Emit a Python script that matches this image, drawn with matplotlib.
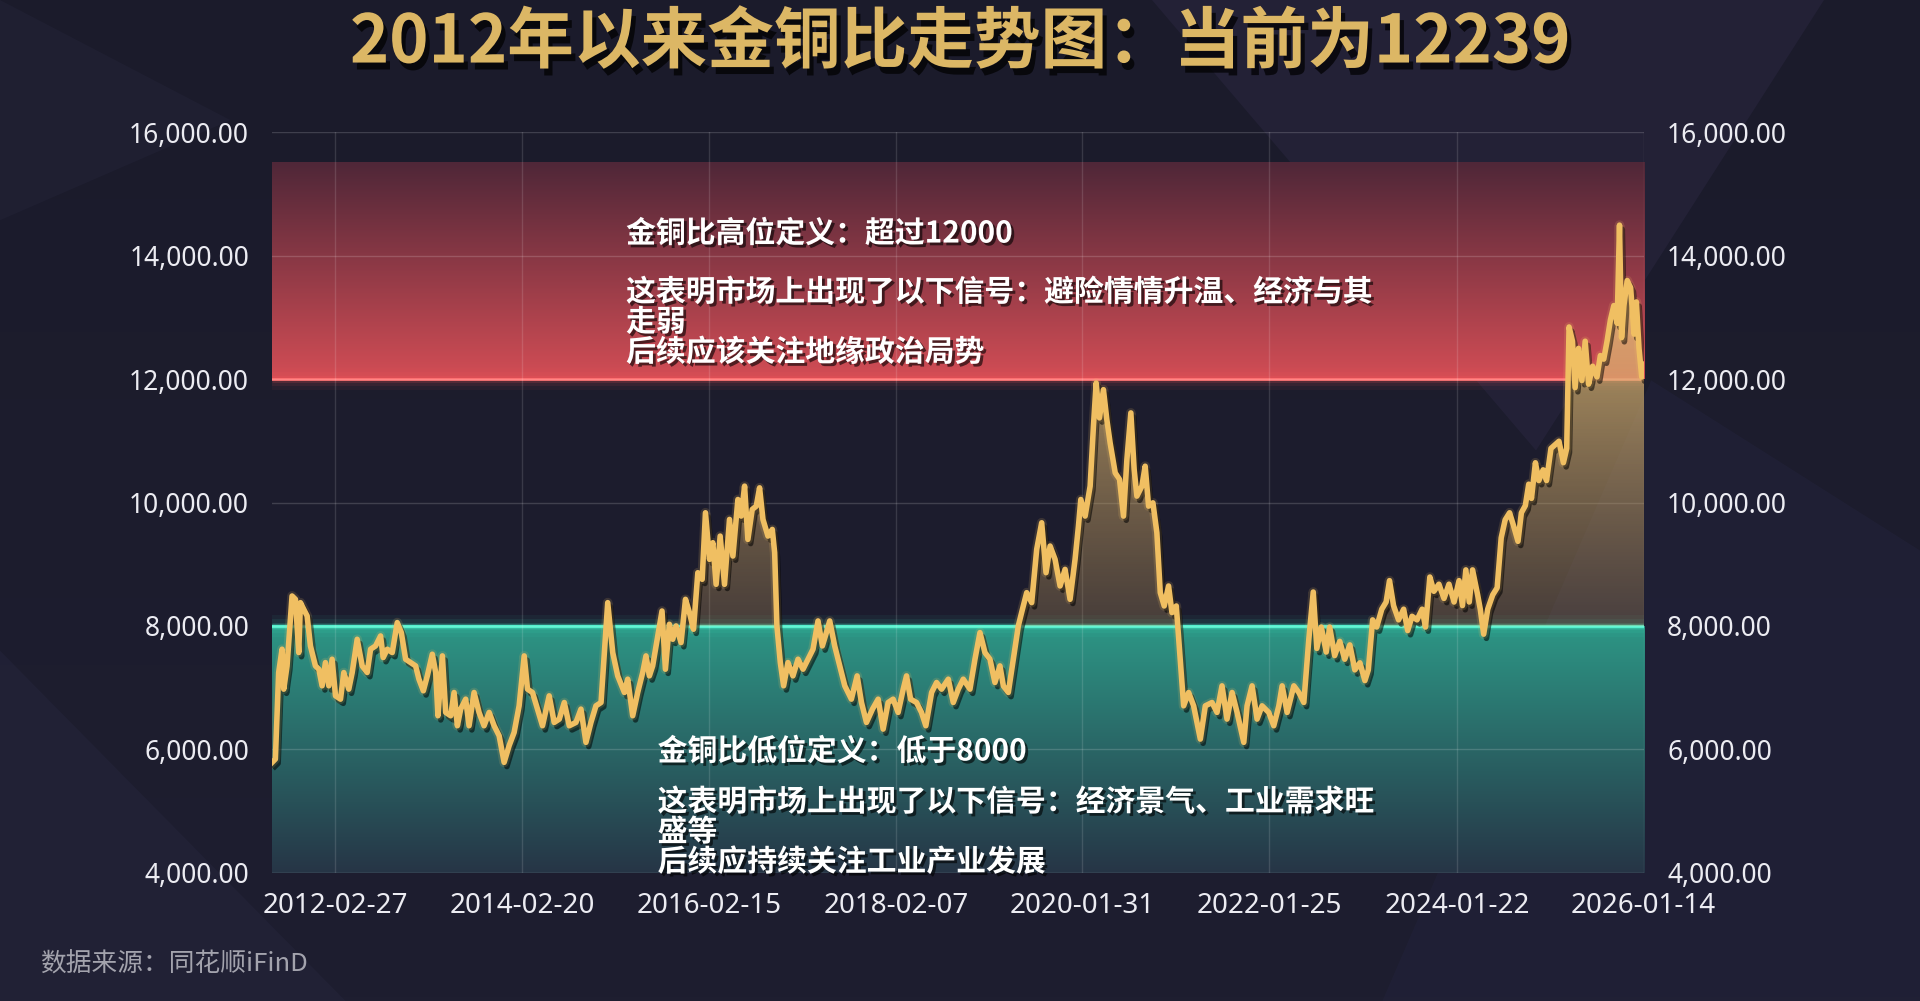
import numpy as np
import pandas as pd
import matplotlib
matplotlib.use("Agg")
import matplotlib.pyplot as plt
from matplotlib import patheffects as pe
from matplotlib.path import Path
from matplotlib.patches import Polygon
from matplotlib.colors import to_rgb

plt.rcParams['font.family'] = ['Noto Sans CJK SC', 'DejaVu Sans']

# gold / copper ratio (x = decimal year)
years = [
    2011.484, 2011.519, 2011.554, 2011.590, 2011.608, 2011.643, 2011.696, 2011.732, 2011.767, 2011.785,
    2011.820, 2011.856, 2011.891, 2011.944, 2011.980, 2012.015, 2012.050, 2012.086, 2012.121, 2012.157,
    2012.210, 2012.245, 2012.298, 2012.334, 2012.387, 2012.440, 2012.493, 2012.529, 2012.582, 2012.635,
    2012.663, 2012.706, 2012.759, 2012.812, 2012.855, 2012.901, 2012.954, 2013.007, 2013.042, 2013.089,
    2013.131, 2013.184, 2013.220, 2013.244, 2013.291, 2013.326, 2013.379, 2013.415, 2013.450, 2013.485,
    2013.538, 2013.574, 2013.627, 2013.680, 2013.733, 2013.787, 2013.840, 2013.893, 2013.946, 2013.999,
    2014.052, 2014.105, 2014.159, 2014.194, 2014.247, 2014.300, 2014.353, 2014.424, 2014.477, 2014.531,
    2014.584, 2014.637, 2014.708, 2014.761, 2014.814, 2014.867, 2014.920, 2014.974, 2015.045, 2015.098,
    2015.151, 2015.222,
    2015.257, 2015.310, 2015.363, 2015.416, 2015.451, 2015.487, 2015.522, 2015.558, 2015.621, 2015.657,
    2015.699, 2015.735, 2015.770, 2015.823, 2015.870, 2015.912, 2015.955, 2016.001, 2016.047, 2016.082,
    2016.125, 2016.160, 2016.195, 2016.238, 2016.284, 2016.337, 2016.373, 2016.426, 2016.461, 2016.497,
    2016.532, 2016.578, 2016.621, 2016.656, 2016.692, 2016.745, 2016.791, 2016.816, 2016.840, 2016.876,
    2016.911, 2016.957, 2017.010, 2017.064, 2017.117, 2017.170, 2017.223, 2017.276, 2017.322, 2017.365,
    2017.400, 2017.453, 2017.506, 2017.560, 2017.630, 2017.691, 2017.737, 2017.790, 2017.854, 2017.914,
    2017.967, 2018.020, 2018.073, 2018.126, 2018.180, 2018.215, 2018.258, 2018.321, 2018.374, 2018.420,
    2018.481, 2018.534, 2018.587, 2018.658, 2018.711, 2018.764, 2018.817, 2018.888, 2018.941, 2018.994,
    2019.047, 2019.100, 2019.153, 2019.206, 2019.242, 2019.295, 2019.348, 2019.401, 2019.436, 2019.490,
    2019.543, 2019.596, 2019.649, 2019.695, 2019.738, 2019.791, 2019.844, 2019.897, 2019.950, 2020.003,
    2020.039, 2020.064, 2020.110, 2020.163, 2020.198, 2020.227, 2020.262, 2020.304, 2020.340, 2020.375,
    2020.429, 2020.475, 2020.517, 2020.553, 2020.595, 2020.630, 2020.659, 2020.712, 2020.747, 2020.783,
    2020.829, 2020.871, 2020.907, 2020.949, 2020.995, 2021.031, 2021.077, 2021.119, 2021.155, 2021.208,
    2021.261, 2021.332, 2021.385, 2021.456, 2021.509, 2021.562, 2021.615, 2021.669, 2021.722, 2021.793,
    2021.828, 2021.881, 2021.934, 2021.987, 2022.058, 2022.111, 2022.165, 2022.200, 2022.253, 2022.324,
    2022.377, 2022.430, 2022.483, 2022.530,
    2022.568, 2022.615, 2022.668, 2022.704, 2022.757, 2022.811, 2022.864, 2022.918, 2022.971, 2023.025,
    2023.078, 2023.114, 2023.160, 2023.203, 2023.257, 2023.303, 2023.339, 2023.382, 2023.435, 2023.489,
    2023.532, 2023.578, 2023.631, 2023.685, 2023.721, 2023.767, 2023.810, 2023.863, 2023.917, 2023.970,
    2024.024, 2024.077, 2024.113, 2024.149, 2024.185, 2024.220, 2024.274, 2024.302, 2024.338, 2024.381,
    2024.434, 2024.481, 2024.524, 2024.566, 2024.613, 2024.659, 2024.702, 2024.738, 2024.780, 2024.816,
    2024.845, 2024.887, 2024.923, 2024.969, 2025.005, 2025.052, 2025.094, 2025.137, 2025.184, 2025.219,
    2025.244, 2025.280, 2025.308, 2025.344, 2025.380, 2025.415, 2025.451, 2025.494, 2025.540, 2025.576,
    2025.612, 2025.647, 2025.683, 2025.719, 2025.754, 2025.779, 2025.801, 2025.826, 2025.861, 2025.897,
    2025.933, 2025.958, 2025.986, 2026.015, 2026.040,
]
ratio = [
    5791, 5845, 7246, 7624, 6977, 7354, 8486, 8432, 7570, 8378,
    8270, 8163, 7677, 7354, 7300, 7031, 7408, 7031, 7462, 6869,
    6815, 7246, 6977, 7246, 7785, 7354, 7246, 7624, 7677, 7839,
    7489, 7624, 7570, 8055, 7893, 7462, 7408, 7354, 7139, 6950,
    7192, 7543, 7246, 6546, 7516, 6600, 6546, 6923, 6384, 6654,
    6815, 6384, 6923, 6600, 6384, 6600, 6384, 6222, 5791, 6061,
    6276, 6707, 7516, 6977, 6923, 6654, 6384, 6869, 6438, 6492,
    6761, 6384, 6438, 6654, 6115, 6438, 6707, 6761, 8378, 7570,
    7192, 6923,
    7139, 6546, 6923, 7246, 7516, 7192, 7354, 7677, 8243, 7300,
    8028, 7785, 8001, 7731, 8432, 8217, 7947, 8863, 8756, 9834,
    9079, 9349, 8675, 9456, 8675, 9726, 9133, 10049, 9780, 10265,
    9402, 9888, 9941, 10238, 9726, 9456, 9564, 9187, 8001, 7408,
    7031, 7408, 7192, 7462, 7300, 7462, 7624, 8082, 7677, 7893,
    8082, 7677, 7354, 7031, 6815, 7192, 6761, 6438, 6654, 6815,
    6330, 6761, 6815, 6600, 6977, 7192, 6815, 6761, 6600, 6384,
    6923, 7085, 6977, 7139, 6761, 6977, 7139, 6977, 7462, 7893,
    7570, 7462, 7085, 7354, 7031, 6923, 7462, 8001, 8217, 8540,
    8378, 9241, 9672, 8863, 9295, 9079, 8648, 8917, 8432, 9079,
    9618, 10049, 9780, 10265, 11235, 11936, 11370, 11828, 11343, 10966,
    10480, 10373, 9780, 10696, 11451, 10534, 10103, 10265, 10588, 9941,
    9995, 9510, 8540, 8324, 8648, 8217, 8324, 7462, 6707, 6923,
    6707, 6168, 6707, 6761, 6600, 7031, 6492, 6923, 6600, 6115,
    6707, 7031, 6492, 6707, 6600, 6384, 6707, 7031, 6600, 7031,
    6923, 6761, 7785, 8550,
    7636, 7983, 7578, 7983, 7520, 7751, 7462, 7694, 7289, 7404,
    7115, 7289, 8099, 7983, 8272, 8388, 8735, 8330, 8099, 8272,
    7925, 8157, 8099, 8272, 7983, 8793, 8562, 8677, 8446, 8677,
    8388, 8735, 8330, 8909, 8388, 8909, 8504, 8272, 7867, 8272,
    8504, 8619, 9429, 9719, 9834, 9603, 9371, 9834, 9950, 10297,
    10066, 10644, 10355, 10529, 10355, 10876, 10934, 10992, 10644, 10876,
    12843, 12612, 11860, 12496, 11975, 12612, 11917, 12207, 12033, 12380,
    12322, 12612, 12959, 13190, 12901, 14492, 12670, 13190, 13595, 13480,
    12727, 13248, 12496, 12033, 12239,
]

tick_dates = ['2012-02-27', '2014-02-20', '2016-02-15', '2018-02-07',
              '2020-01-31', '2022-01-25', '2024-01-22', '2026-01-14']
y_ticks = [4000, 6000, 8000, 10000, 12000, 14000, 16000]
y_min, y_max = 4000, 16000
high_level, high_top = 12000, 15500
low_level = 8000

title = '2012年以来金铜比走势图：当前为12239'
high_head = '金铜比高位定义：超过12000'
high_body = '这表明市场上出现了以下信号：避险情情升温、经济与其\n走弱\n后续应该关注地缘政治局势'
low_head = '金铜比低位定义：低于8000'
low_body = '这表明市场上出现了以下信号：经济景气、工业需求旺\n盛等\n后续应持续关注工业产业发展'
source = '数据来源：同花顺iFinD'


def dec_year(s):
    d = pd.Timestamp(s)
    start = pd.Timestamp(d.year, 1, 1)
    end = pd.Timestamp(d.year + 1, 1, 1)
    return d.year + (d - start) / (end - start)


def vgrad(c_bottom, c_top, a_bottom=1.0, a_top=1.0, n=256):
    """vertical RGBA gradient, row 0 = bottom"""
    t = np.linspace(0, 1, n)[:, None]
    cb, ct = np.array(to_rgb(c_bottom)), np.array(to_rgb(c_top))
    rgb = cb + (ct - cb) * t
    a = a_bottom + (a_top - a_bottom) * t
    return np.hstack([rgb, a]).reshape(n, 1, 4)


x = np.array(years)
y = np.array(ratio, dtype=float)
tick_pos = [dec_year(d) for d in tick_dates]
x0, x1 = x[0], x[-1]

fig = plt.figure(figsize=(19.2, 10.01), dpi=100)
fig.patch.set_facecolor('#1d1d2e')

# background with a few soft facets
bg = fig.add_axes([0, 0, 1, 1], zorder=-10)
bg.imshow(vgrad('#1e1e30', '#1b1b2b'), extent=[0, 1, 0, 1], aspect='auto', origin='lower')
facets = [
    ([(0.60, 1.0), (0.95, 1.0), (0.80, 0.55)], '#2a2640', 0.55),
    ([(0.72, 0.0), (1.0, 0.0), (1.0, 0.45), (0.86, 0.62)], '#22223a', 0.6),
    ([(0.0, 0.35), (0.18, 0.0), (0.0, 0.0)], '#24243a', 0.6),
    ([(0.0, 0.78), (0.12, 0.88), (0.0, 1.0)], '#222236', 0.6),
]
for pts, col, a in facets:
    bg.add_patch(Polygon(pts, closed=True, facecolor=col, edgecolor='none', alpha=a))
bg.set_xlim(0, 1)
bg.set_ylim(0, 1)
bg.axis('off')

ax = fig.add_axes([0.1417, 0.1279, 0.7146, 0.7402])
ax.set_facecolor('none')
for s in ax.spines.values():
    s.set_visible(False)

# red high band
ax.imshow(vgrad('#d24d55', '#4f2738'), extent=[x0, x1, high_level, high_top],
          aspect='auto', origin='lower', interpolation='bicubic', zorder=1)
# green low band
ax.imshow(vgrad('#263546', '#2d9685'), extent=[x0, x1, y_min, low_level],
          aspect='auto', origin='lower', interpolation='bicubic', zorder=1)

# glowing borders
for lw, a in [(16, 0.05), (10, 0.08), (5, 0.15)]:
    ax.plot([x0, x1], [high_level, high_level], color='#ff5a60', lw=lw, alpha=a,
            solid_capstyle='butt', zorder=2)
    ax.plot([x0, x1], [low_level, low_level], color='#3fe8c4', lw=lw, alpha=a,
            solid_capstyle='butt', zorder=2)
ax.plot([x0, x1], [high_level, high_level], color='#ff7070', lw=2, zorder=2)
ax.plot([x0, x1], [low_level, low_level], color='#4ff0cc', lw=2.5, zorder=2)

# grid
for v in y_ticks:
    ax.axhline(v, color='#ffffff', alpha=0.16 if v != y_min else 0.28, lw=1, zorder=3)
for p in tick_pos:
    ax.axvline(p, color='#ffffff', alpha=0.13, lw=1, zorder=3)

# gold area above 8000, gradient clipped to the fill
fill = ax.fill_between(x, y, low_level, where=y > low_level, interpolate=True,
                       facecolor='none', edgecolor='none', zorder=4)
clip = Path.make_compound_path(*fill.get_paths())
gold = ax.imshow(vgrad('#b8945a', '#f0c980', 0.28, 0.95), extent=[x0, x1, low_level, 14600],
                 aspect='auto', origin='lower', interpolation='bicubic', zorder=4)
gold.set_clip_path(clip, transform=ax.transData)

ax.plot(x, y, color='#f0bf62', lw=4, solid_joinstyle='round', zorder=6,
        path_effects=[pe.SimpleLineShadow(offset=(2, -3), shadow_color='black', alpha=0.55),
                      pe.Stroke(linewidth=7, foreground='#f0bf62', alpha=0.15),
                      pe.Normal()])

ax.set_xlim(x0, x1)
ax.set_ylim(y_min, y_max)

ax.set_yticks(y_ticks)
ax.set_yticklabels([f'{v:,.2f}' for v in y_ticks])
ax.tick_params(axis='y', which='both', left=False, right=False, labelleft=True,
               labelright=True, labelsize=19, labelcolor='#ececf2', pad=13)
for lbl in ax.get_yticklabels():
    lbl.set_fontfamily(['Noto Sans', 'DejaVu Sans'])
ax.set_xticks(tick_pos)
ax.set_xticklabels(tick_dates)
ax.tick_params(axis='x', bottom=False, labelsize=20, labelcolor='#ececf2', pad=10)
for lbl in ax.get_xticklabels():
    lbl.set_fontfamily(['Liberation Sans Narrow', 'Noto Sans', 'DejaVu Sans'])

shadow = [pe.withSimplePatchShadow(offset=(2, -2), shadow_rgbFace='black', alpha=0.6)]
note_kw = dict(transform=ax.transAxes, color='white', fontsize=21.5, fontweight='bold',
               ha='left', zorder=8, path_effects=shadow)
ax.text(0.258, 0.863, high_head, va='center', **note_kw)
ax.text(0.258, 0.804, high_body, va='top', linespacing=1.0, **note_kw)
ax.text(0.281, 0.164, low_head, va='center', **note_kw)
ax.text(0.281, 0.116, low_body, va='top', linespacing=1.0, **note_kw)

fig.text(0.5, 0.957, title, ha='center', va='center', fontsize=48, fontweight='heavy',
         color='#dcb765',
         path_effects=[pe.withSimplePatchShadow(offset=(3, -5), shadow_rgbFace='black', alpha=0.7)])
fig.text(0.021, 0.036, source, ha='left', va='center', fontsize=18.5, color='#a3a3ad')

fig.savefig('out.png', dpi=100, facecolor=fig.get_facecolor())
